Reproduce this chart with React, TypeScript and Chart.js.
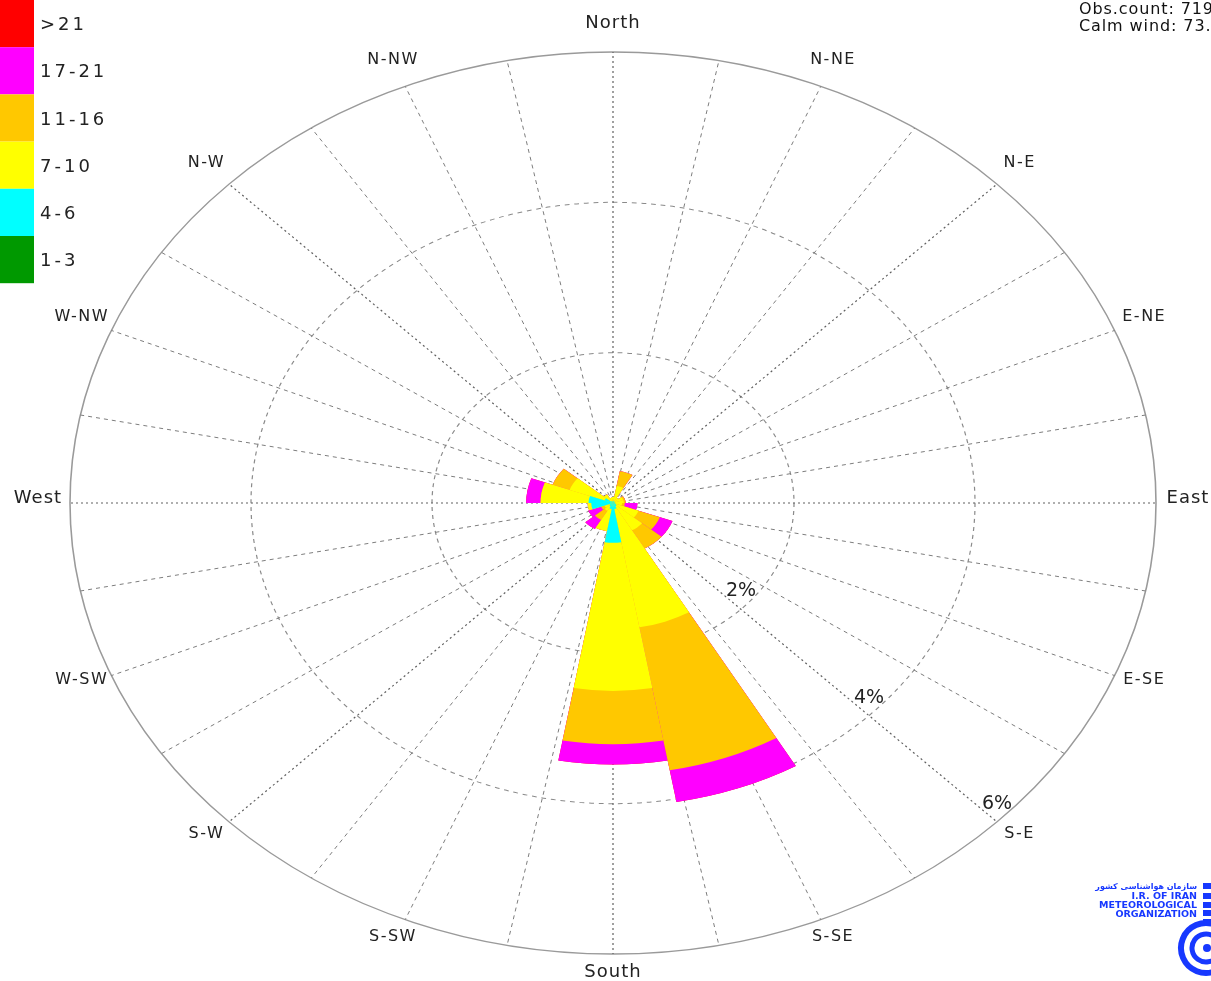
import React, { useEffect, useRef } from 'react';
import { Chart, registerables } from 'chart.js';

Chart.register(...registerables);

// Direction bins (bearing of each 20° sector centre)
const binLabels = ['0°', '20°', '40°', '60°', '80°', '100°', '120°', '140°', '160°', '180°', '200°', '220°', '240°', '260°', '280°', '300°', '320°', '340°'];

// Wind speed classes (knots) and colours
const speedClasses = ['1-3', '4-6', '7-10', '11-16', '17-21', '>21'];
const classColors = ['#009900', '#00ffff', '#ffff00', '#ffc800', '#ff00ff', '#ff0000'];

// Frequency (%) of each speed class per direction bin
const speed1to3 = [0, 0, 0, 0, 0, 0, 0, 0, 0, 0, 0, 0, 0, 0, 0, 0, 0, 0];
const speed4to6 = [0.02, 0.03, 0.02, 0.02, 0.02, 0.02, 0.04, 0.05, 0.08, 0.53, 0.08, 0.05, 0.04, 0.24, 0.27, 0.10, 0.03, 0.02];
const speed7to10 = [0.06, 0.20, 0.06, 0.10, 0.10, 0.08, 0.26, 0.37, 1.60, 1.97, 0.30, 0.07, 0.06, 0.04, 0.53, 0.41, 0.10, 0.05];
const speed11to16 = [0, 0.20, 0, 0.02, 0.02, 0.03, 0.25, 0.28, 1.93, 0.71, 0, 0.14, 0.04, 0, 0, 0.20, 0, 0];
const speed17to21 = [0, 0, 0, 0, 0, 0.14, 0.15, 0, 0.43, 0.27, 0, 0.14, 0.15, 0, 0.16, 0, 0, 0];
const speedOver21 = [0, 0, 0, 0, 0, 0, 0, 0, 0, 0, 0, 0, 0, 0, 0, 0, 0, 0];

// Axis text
const directionLabels = ['North', 'N-NE', 'N-E', 'E-NE', 'East', 'E-SE', 'S-E', 'S-SE', 'South', 'S-SW', 'S-W', 'W-SW', 'West', 'W-NW', 'N-W', 'N-NW'];
const ringTicks = [2, 4, 6];
const ringTickLabels = ['2%', '4%', '6%'];
const infoLines = ['Obs.count: 719', 'Calm wind: 73.'];
const logoLines = ['سازمان هواشناسی کشور', 'I.R. OF IRAN', 'METEOROLOGICAL', 'ORGANIZATION'];

const STRETCH = 543 / 451; // horizontal stretch of the rose (ellipse)
const FONT = '"DejaVu Sans", sans-serif';

const segments = [speed1to3, speed4to6, speed7to10, speed11to16, speed17to21, speedOver21];
const cumulative = segments.map((_, k) =>
  binLabels.map((__, i) => segments.slice(0, k + 1).reduce((s, arr) => s + arr[i], 0))
);

const windRosePlugin = {
  id: 'windRoseEllipse',
  beforeDraw(chart: any) {
    const s = chart.scales.r;
    const ctx = chart.ctx;
    ctx.save();
    ctx.translate(s.xCenter, s.yCenter);
    ctx.scale(STRETCH, 1);
    ctx.translate(-s.xCenter, -s.yCenter);
  },
  beforeDatasetsDraw(chart: any) {
    const s = chart.scales.r;
    const ctx = chart.ctx;
    const dpr = chart.currentDevicePixelRatio || 1;
    ctx.save();
    ctx.setTransform(dpr, 0, 0, dpr, 0, 0);
    const R = s.getDistanceFromCenterForValue(s.max);
    for (let k = 0; k < 32; k++) {
      const a = (k * 11.25 * Math.PI) / 180;
      const principal = k % 4 === 0;
      ctx.strokeStyle = principal ? '#606060' : '#7d7d7d';
      ctx.lineWidth = principal ? 1.2 : 1;
      ctx.setLineDash(principal ? [2, 3] : [4, 4]);
      ctx.beginPath();
      ctx.moveTo(s.xCenter, s.yCenter);
      ctx.lineTo(s.xCenter + R * STRETCH * Math.sin(a), s.yCenter - R * Math.cos(a));
      ctx.stroke();
    }
    ctx.restore();
  },
  afterDatasetsDraw(chart: any) {
    chart.ctx.restore();
  },
  afterDraw(chart: any) {
    const s = chart.scales.r;
    const ctx = chart.ctx;
    const R = s.getDistanceFromCenterForValue(s.max);
    ctx.save();
    ctx.fillStyle = '#222';
    ctx.textAlign = 'center';
    ctx.textBaseline = 'middle';
    // direction labels
    directionLabels.forEach((lab, i) => {
      const a = (i * 22.5 * Math.PI) / 180;
      const cardinal = i % 4 === 0;
      ctx.font = (cardinal ? '18px ' : '16px ') + FONT;
      (ctx as any).letterSpacing = cardinal ? '1px' : '1.5px';
      const x = s.xCenter + (R * STRETCH + 32) * Math.sin(a);
      const y = s.yCenter - (R + 23.5) * Math.cos(a) - 5;
      ctx.fillText(lab, x, y);
    });
    // ring labels along S-E
    ctx.font = '19px ' + FONT;
    (ctx as any).letterSpacing = '0px';
    const se = (135 * Math.PI) / 180;
    ringTicks.forEach((v, i) => {
      const r = s.getDistanceFromCenterForValue(v);
      ctx.fillText(ringTickLabels[i], s.xCenter + r * STRETCH * Math.sin(se), s.yCenter - r * Math.cos(se) - 18);
    });
    // legend
    const boxH = 47.2;
    ctx.textAlign = 'left';
    ctx.font = '18px ' + FONT;
    (ctx as any).letterSpacing = '3px';
    for (let j = 0; j < speedClasses.length; j++) {
      const k = speedClasses.length - 1 - j;
      ctx.fillStyle = classColors[k];
      ctx.fillRect(0, j * boxH, 34, boxH);
      ctx.fillStyle = '#222';
      ctx.fillText(speedClasses[k], 40, j * boxH + boxH / 2 + 2);
    }
    // info text
    (ctx as any).letterSpacing = '0.9px';
    ctx.font = '16px ' + FONT;
    ctx.fillStyle = '#111';
    ctx.textBaseline = 'alphabetic';
    ctx.fillText(infoLines[0], 1079, 14);
    ctx.fillText(infoLines[1], 1079, 31);
    // logo
    (ctx as any).letterSpacing = '0px';
    ctx.fillStyle = '#1738ff';
    ctx.textAlign = 'right';
    ctx.font = 'bold 8px ' + FONT;
    ctx.fillText(logoLines[0], 1197, 889);
    ctx.font = 'bold 9.5px ' + FONT;
    ctx.fillText(logoLines[1], 1197, 899);
    ctx.fillText(logoLines[2], 1197, 908);
    ctx.fillText(logoLines[3], 1197, 917);
    [883, 893, 902, 910, 919].forEach((yy) => ctx.fillRect(1203, yy, 8, 6));
    ctx.strokeStyle = '#1738ff';
    ctx.lineWidth = 6;
    ctx.beginPath();
    ctx.arc(1206, 948, 25, 0.12 * Math.PI, 1.72 * Math.PI);
    ctx.stroke();
    ctx.lineWidth = 5;
    ctx.beginPath();
    ctx.arc(1206, 948, 14, 0.2 * Math.PI, 1.7 * Math.PI);
    ctx.stroke();
    ctx.beginPath();
    ctx.arc(1207, 948, 4, 0, 2 * Math.PI);
    ctx.fill();
    ctx.restore();
  },
};

export default function App() {
  const ref = useRef<HTMLCanvasElement>(null);
  useEffect(() => {
    const canvas = ref.current;
    if (!canvas) return;
    const chart = new Chart(canvas, {
      type: 'polarArea',
      data: {
        labels: binLabels,
        datasets: cumulative.map((data, k) => ({
          label: speedClasses[k],
          data,
          backgroundColor: classColors[k],
          borderWidth: 0,
        })),
      },
      options: {
        responsive: false,
        animation: false,
        layout: { padding: { left: 113, right: 98, top: 52, bottom: 27 } },
        plugins: { legend: { display: false }, tooltip: { enabled: false } },
        scales: {
          r: {
            min: 0,
            max: 6,
            startAngle: -10,
            ticks: { display: false, stepSize: 2 },
            pointLabels: { display: false },
            angleLines: { display: false },
            grid: {
              circular: true,
              color: (c: any) => (c.tick && c.tick.value === 6 ? '#9a9a9a' : '#8a8a8a'),
              lineWidth: (c: any) => (c.tick && c.tick.value === 6 ? 1.3 : 1),
            },
            border: { dash: (c: any) => (c.tick && c.tick.value === 6 ? [] : [4, 4]) },
          },
        },
      } as any,
      plugins: [windRosePlugin],
    });
    return () => chart.destroy();
  }, []);
  return (
    <div style={{ position: 'absolute', left: 0, top: 0, width: 1211, height: 981, background: '#fff', overflow: 'hidden' }}>
      <canvas ref={ref} width={1211} height={981} style={{ display: 'block' }} />
    </div>
  );
}
